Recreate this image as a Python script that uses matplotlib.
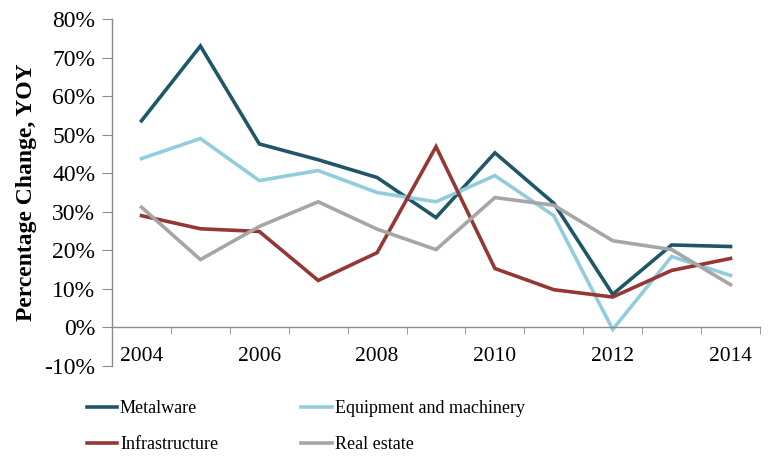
import matplotlib
matplotlib.use("Agg")
import matplotlib.pyplot as plt
from matplotlib.ticker import FuncFormatter, MultipleLocator

years = [2004, 2005, 2006, 2007, 2008, 2009, 2010, 2011, 2012, 2013, 2014]
metalware = [53.6, 73.0, 47.6, 43.5, 38.9, 28.5, 45.3, 32.2, 8.6, 21.4, 21.0]
equipment = [43.8, 49.0, 38.1, 40.7, 35.0, 32.6, 39.4, 29.0, -0.5, 18.4, 13.5]
infrastructure = [29.0, 25.6, 24.9, 12.2, 19.4, 46.9, 15.3, 9.8, 7.9, 14.8, 17.9]
real_estate = [31.2, 17.6, 26.2, 32.6, 25.5, 20.2, 33.7, 31.7, 22.5, 20.2, 11.1]

series = [
    ("Metalware", metalware, "#1f5767"),
    ("Equipment and machinery", equipment, "#93cddd"),
    ("Infrastructure", infrastructure, "#953735"),
    ("Real estate", real_estate, "#a6a6a6"),
]

plt.rcParams["font.family"] = ["Liberation Serif", "DejaVu Serif"]

fig = plt.figure(figsize=(7.7, 4.57), dpi=100)
ax = fig.add_axes([0.1455, 0.199, 0.8415, 0.7594])

lines = {}
for name, vals, color in series:
    lines[name], = ax.plot(years, vals, color=color, lw=2.6, label=name, solid_joinstyle="miter")

ax.set_xlim(2003.5, 2014.5)
ax.set_ylim(-10, 80)

# category-style axis: ticks between years, labels every other year
ax.spines["top"].set_visible(False)
ax.spines["right"].set_visible(False)
ax.spines["bottom"].set_position(("data", 0))
for s in ("left", "bottom"):
    ax.spines[s].set_color("#8c8c8c")
    ax.spines[s].set_linewidth(1.0)

ax.set_xticks(years[::2])
ax.set_xticks([y + 0.5 for y in years], minor=True)
ax.tick_params(axis="x", which="major", length=0, pad=14, labelsize=15.5, colors="black")
ax.tick_params(axis="x", which="minor", length=5, direction="out", color="#8c8c8c")

ax.yaxis.set_major_locator(MultipleLocator(10))
ax.yaxis.set_major_formatter(FuncFormatter(lambda v, _: f"{v:.0f}%"))
ax.tick_params(axis="y", length=7, direction="out", color="#8c8c8c", labelsize=17, pad=5)

ax.set_ylabel("Percentage Change, YOY", fontsize=17, fontweight="bold", labelpad=5)

# legend fills column-wise, so order gives rows: Metalware/Equipment, Infrastructure/Real estate
order = ["Metalware", "Infrastructure", "Equipment and machinery", "Real estate"]
fig.legend([lines[n] for n in order], order, loc="upper left",
           bbox_to_anchor=(0.103, 0.14), ncol=2, frameon=False,
           fontsize=13, handlelength=1.7, handletextpad=0.15, columnspacing=4.6,
           labelspacing=1.05, borderaxespad=0)

fig.savefig("out.png", dpi=100)
